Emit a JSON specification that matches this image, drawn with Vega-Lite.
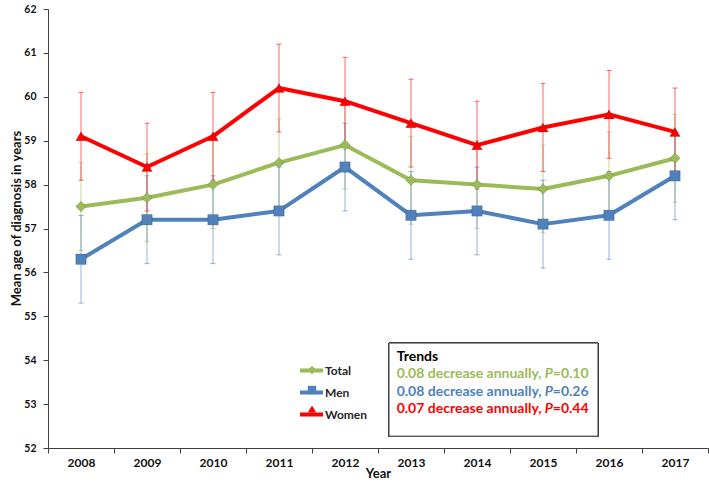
{
  "$schema": "https://vega.github.io/schema/vega-lite/v6.json",
  "width": 660,
  "height": 439,
  "autosize": {"type": "none"},
  "padding": {"left": 48, "top": 9, "right": 1, "bottom": 34},
  "background": "white",
  "config": {
    "view": {"stroke": null},
    "font": "Lato",
    "axis": {"grid": false, "domainColor": "#404040", "tickColor": "#404040", "labelColor": "#111111", "titleColor": "#111111", "labelFont": "Lato", "titleFont": "Lato", "labelFontWeight": "bold", "titleFontWeight": "bold"}
  },
  "datasets": {
    "ages": [
      {"year": 2008, "series": "Total", "value": 57.5, "lower": 56.5, "upper": 58.5},
      {"year": 2009, "series": "Total", "value": 57.7, "lower": 56.7, "upper": 58.7},
      {"year": 2010, "series": "Total", "value": 58.0, "lower": 57.0, "upper": 59.0},
      {"year": 2011, "series": "Total", "value": 58.5, "lower": 57.5, "upper": 59.5},
      {"year": 2012, "series": "Total", "value": 58.9, "lower": 57.9, "upper": 59.9},
      {"year": 2013, "series": "Total", "value": 58.1, "lower": 57.1, "upper": 59.1},
      {"year": 2014, "series": "Total", "value": 58.0, "lower": 57.0, "upper": 59.0},
      {"year": 2015, "series": "Total", "value": 57.9, "lower": 56.9, "upper": 58.9},
      {"year": 2016, "series": "Total", "value": 58.2, "lower": 57.2, "upper": 59.2},
      {"year": 2017, "series": "Total", "value": 58.6, "lower": 57.6, "upper": 59.6},
      {"year": 2008, "series": "Men", "value": 56.3, "lower": 55.3, "upper": 57.3},
      {"year": 2009, "series": "Men", "value": 57.2, "lower": 56.2, "upper": 58.2},
      {"year": 2010, "series": "Men", "value": 57.2, "lower": 56.2, "upper": 58.2},
      {"year": 2011, "series": "Men", "value": 57.4, "lower": 56.4, "upper": 58.4},
      {"year": 2012, "series": "Men", "value": 58.4, "lower": 57.4, "upper": 59.4},
      {"year": 2013, "series": "Men", "value": 57.3, "lower": 56.3, "upper": 58.3},
      {"year": 2014, "series": "Men", "value": 57.4, "lower": 56.4, "upper": 58.4},
      {"year": 2015, "series": "Men", "value": 57.1, "lower": 56.1, "upper": 58.1},
      {"year": 2016, "series": "Men", "value": 57.3, "lower": 56.3, "upper": 58.3},
      {"year": 2017, "series": "Men", "value": 58.2, "lower": 57.2, "upper": 59.2},
      {"year": 2008, "series": "Women", "value": 59.1, "lower": 58.1, "upper": 60.1},
      {"year": 2009, "series": "Women", "value": 58.4, "lower": 57.4, "upper": 59.4},
      {"year": 2010, "series": "Women", "value": 59.1, "lower": 58.1, "upper": 60.1},
      {"year": 2011, "series": "Women", "value": 60.2, "lower": 59.2, "upper": 61.2},
      {"year": 2012, "series": "Women", "value": 59.9, "lower": 58.9, "upper": 60.9},
      {"year": 2013, "series": "Women", "value": 59.4, "lower": 58.4, "upper": 60.4},
      {"year": 2014, "series": "Women", "value": 58.9, "lower": 57.9, "upper": 59.9},
      {"year": 2015, "series": "Women", "value": 59.3, "lower": 58.3, "upper": 60.3},
      {"year": 2016, "series": "Women", "value": 59.6, "lower": 58.6, "upper": 60.6},
      {"year": 2017, "series": "Women", "value": 59.2, "lower": 58.2, "upper": 60.2}
    ],
    "trends": [
      {"series": "Total", "change": "0.08 decrease annually,", "p": "=0.10"},
      {"series": "Men", "change": "0.08 decrease annually,", "p": "=0.26"},
      {"series": "Women", "change": "0.07 decrease annually,", "p": "=0.44"}
    ]
  },
  "layer": [
    {
      "data": {"name": "ages"},
      "encoding": {
        "x": {
          "field": "year", "type": "quantitative",
          "scale": {"domain": [2007.5, 2017.5], "nice": false, "zero": false},
          "axis": {
            "title": "Year", "values": [2007.5, 2008.5, 2009.5, 2010.5, 2011.5, 2012.5, 2013.5, 2014.5, 2015.5, 2016.5, 2017.5],
            "labelExpr": "datum.value > 2017 ? '' : toString(datum.value + 0.5)",
            "labelOffset": 33, "labelFlush": false, "labelOverlap": false,
            "tickSize": 5, "labelFontSize": 12, "labelPadding": 4,
            "titleFontSize": 13, "titleY": 29, "titleBaseline": "alphabetic"
          }
        }
      },
      "layer": [
        {
          "mark": {"type": "rect", "fill": "white", "stroke": "#404040", "strokeWidth": 1},
          "encoding": {
            "x": {"datum": 2012.667, "type": "quantitative"},
            "x2": {"datum": 2015.833},
            "y": {"datum": 54.39, "type": "quantitative"},
            "y2": {"datum": 52.27}
          }
        },
        {
          "mark": {"type": "rule", "strokeWidth": 1, "strokeOpacity": 0.6},
          "encoding": {
            "y": {"field": "lower", "type": "quantitative"},
            "y2": {"field": "upper"},
            "stroke": {"field": "series", "type": "nominal", "sort": ["Total", "Men", "Women"]}
          }
        },
        {
          "mark": {"type": "tick", "orient": "horizontal", "size": 5, "thickness": 1, "fillOpacity": 0.6},
          "encoding": {
            "y": {"field": "lower", "type": "quantitative"},
            "fill": {"field": "series", "type": "nominal"}
          }
        },
        {
          "mark": {"type": "tick", "orient": "horizontal", "size": 5, "thickness": 1, "fillOpacity": 0.6},
          "encoding": {
            "y": {"field": "upper", "type": "quantitative"},
            "fill": {"field": "series", "type": "nominal"}
          }
        },
        {
          "mark": {"type": "line", "strokeWidth": 4, "strokeJoin": "round"},
          "encoding": {
            "y": {
              "field": "value", "type": "quantitative",
              "scale": {"domain": [52, 62], "nice": false, "zero": false},
              "axis": {
                "title": "Mean age of diagnosis in years", "values": [52, 53, 54, 55, 56, 57, 58, 59, 60, 61, 62],
                "tickSize": 5, "labelFontSize": 10.5, "labelPadding": 7,
                "titleFontSize": 13, "titleX": -25, "titleY": 209
              }
            },
            "stroke": {
              "field": "series", "type": "nominal", "sort": ["Total", "Men", "Women"],
              "scale": {"range": ["#9BBB59", "#4F81BD", "#FF0000"]},
              "legend": {
                "orient": "none", "legendX": 250, "legendY": 348, "title": null, "padding": 0,
                "symbolType": "stroke", "symbolSize": 529, "symbolStrokeWidth": 4, "symbolOpacity": 1,
                "labelFont": "Lato", "labelFontSize": 12, "labelFontWeight": "bold", "labelColor": "#262626",
                "labelOffset": 0, "rowPadding": -1.5
              }
            }
          }
        },
        {
          "mark": {"type": "point", "filled": true, "opacity": 1, "size": 110, "stroke": "#000000", "strokeOpacity": 0.15, "strokeWidth": 1},
          "encoding": {
            "y": {"field": "value", "type": "quantitative"},
            "fill": {
              "field": "series", "type": "nominal",
              "scale": {"domain": ["Total", "Men", "Women"], "range": ["#9BBB59", "#4F81BD", "#FF0000"]},
              "legend": {
                "orient": "none", "legendX": 258, "legendY": 355, "title": null, "padding": 0,
                "symbolSize": 70, "symbolOpacity": 1, "symbolStrokeColor": "transparent", "labelExpr": "''",
                "labelFont": "Lato", "labelFontSize": 12, "labelFontWeight": "bold",
                "labelOffset": 2, "rowPadding": 4
              }
            },
            "shape": {
              "field": "series", "type": "nominal",
              "scale": {"domain": ["Total", "Men", "Women"], "range": ["diamond", "square", "triangle-up"]},
              "legend": {
                "orient": "none", "legendX": 258, "legendY": 355, "title": null, "padding": 0,
                "symbolSize": 70, "symbolOpacity": 1, "symbolStrokeColor": "transparent", "labelExpr": "''",
                "labelFont": "Lato", "labelFontSize": 12, "labelFontWeight": "bold",
                "labelOffset": 2, "rowPadding": 4
              }
            }
          }
        }
      ]
    },
    {
      "encoding": {
        "y": {"type": "ordinal", "scale": {"type": "point", "domain": ["Trends", "Total", "Men", "Women"], "range": [347.7, 400.3], "padding": 0}, "axis": null}
      },
      "layer": [
        {
          "data": {"values": [{"label": "Trends"}]},
          "mark": {"type": "text", "align": "left", "baseline": "middle", "font": "Lato", "fontSize": 14, "fontWeight": "bold", "color": "#000000"},
          "encoding": {
            "x": {"datum": 2012.783, "type": "quantitative"},
            "y": {"field": "label", "type": "ordinal"},
            "text": {"field": "label"}
          }
        },
        {
          "data": {"name": "trends"},
          "mark": {"type": "text", "align": "left", "baseline": "middle", "font": "Lato", "fontSize": 14, "fontWeight": "bold"},
          "encoding": {
            "x": {"datum": 2012.783, "type": "quantitative"},
            "y": {"field": "series", "type": "ordinal"},
            "text": {"field": "change"},
            "fill": {"field": "series", "type": "nominal"}
          }
        },
        {
          "data": {"name": "trends"},
          "mark": {"type": "text", "align": "right", "baseline": "middle", "font": "Lato", "fontSize": 14, "fontWeight": "bold", "fontStyle": "italic", "text": "P"},
          "encoding": {
            "x": {"datum": 2015.148, "type": "quantitative"},
            "y": {"field": "series", "type": "ordinal"},
            "fill": {"field": "series", "type": "nominal"}
          }
        },
        {
          "data": {"name": "trends"},
          "mark": {"type": "text", "align": "left", "baseline": "middle", "font": "Lato", "fontSize": 14, "fontWeight": "bold"},
          "encoding": {
            "x": {"datum": 2015.148, "type": "quantitative"},
            "y": {"field": "series", "type": "ordinal"},
            "text": {"field": "p"},
            "fill": {"field": "series", "type": "nominal"}
          }
        }
      ]
    }
  ],
  "resolve": {"scale": {"y": "independent"}}
}
